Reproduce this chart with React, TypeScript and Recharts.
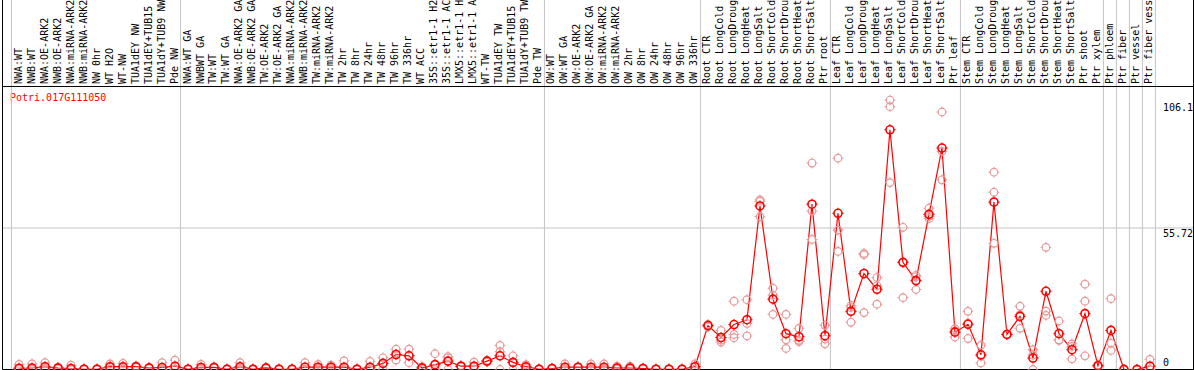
import React from 'react';
import { ComposedChart, Line, Scatter, XAxis, YAxis, ReferenceLine } from 'recharts';

const title = 'Potri.017G111050';

const labels = [
  'NWA:WT', 'NWB:WT', 'NWA:OE-ARK2', 'NWB:OE-ARK2', 'NWA:miRNA-ARK2', 'NWB:miRNA-ARK2', 'NW 0hr', 'WT H2O', 'WT-NW', 'TUA1dEY NW', 'TUA1dEY+TUB15 NW', 'TUA1dY+TUB9 NW', 'Pde NW',
  'NWA:WT GA', 'NWBWT GA', 'TW:WT', 'TW:WT GA', 'NWA:OE-ARK2 GA', 'NWB:OE-ARK2 GA', 'TW:OE-ARK2', 'TW:OE-ARK2 GA', 'NWA:miRNA-ARK2 GA', 'NWB:miRNA-ARK2 GA', 'TW:miRNA-ARK2', 'TW:miRNA-ARK2 GA', 'TW 2hr', 'TW 8hr', 'TW 24hr', 'TW 48hr', 'TW 96hr', 'TW 336hr', 'WT ACC', '35S::etr1-1 H2O', '35S::etr1-1 ACC', 'LMX5::etr1-1 H2O', 'LMX5::etr1-1 ACC', 'WT-TW', 'TUA1dEY TW', 'TUA1dEY+TUB15 TW', 'TUA1dY+TUB9 TW', 'Pde TW',
  'OW:WT', 'OW:WT GA', 'OW:OE-ARK2', 'OW:OE-ARK2 GA', 'OW:miRNA-ARK2', 'OW:miRNA-ARK2 GA', 'OW 2hr', 'OW 8hr', 'OW 24hr', 'OW 48hr', 'OW 96hr', 'OW 336hr',
  'Root CTR', 'Root LongCold', 'Root LongDrought', 'Root LongHeat', 'Root LongSalt', 'Root ShortCold', 'Root ShortDrought', 'Root ShortHeat', 'Root ShortSalt', 'Ptr root',
  'Leaf CTR', 'Leaf LongCold', 'Leaf LongDrought', 'Leaf LongHeat', 'Leaf LongSalt', 'Leaf ShortCold', 'Leaf ShortDrought', 'Leaf ShortHeat', 'Leaf ShortSalt', 'Ptr leaf',
  'Stem CTR', 'Stem LongCold', 'Stem LongDrought', 'Stem LongHeat', 'Stem LongSalt', 'Stem ShortCold', 'Stem ShortDrought', 'Stem ShortHeat', 'Stem ShortSalt', 'Ptr shoot', 'Ptr xylem',
  'Ptr phloem', 'Ptr fiber', 'Ptr vessel', 'Ptr fiber vessel',
];

const groupSizes = [13, 28, 12, 10, 10, 11, 1, 1, 1, 1];

const means = [
  0.5, 0.6, 1.1, 0.6, 0.4, 0.1, 0.1, 1.1, 1.1, 1.1, 0.6, 0.8, 1.3,
  0.1, 0.8, 0.8, 0.1, 1.1, 0.1, 0.6, 0.1, 0.1, 0.9, 0.9, 0.9, 0.9, 0.1, 0.9, 2.4, 5.9, 5.4, 0.6, 1.9, 3.3, 1.3, 1.3, 3.3, 5.4, 2.8, 1.1, 0.1,
  0.4, 0.9, 0.9, 0.9, 0.9, 0.6, 0.6, 0.4, 0.1, 0.1, 0.1, 1.1,
  17.3, 12.6, 17.7, 19.6, 64.4, 27.7, 14.1, 12.9, 65.1, 13.3,
  61.5, 22.9, 37.8, 31.6, 94.4, 42.2, 35.0, 61.1, 87.2, 14.7,
  17.8, 5.8, 65.9, 13.8, 20.9, 4.5, 30.8, 14.1, 7.8, 22.0, 1.5,
  15.4, 0, 0, 1.3,
];

const rep1 = [
  2.0, 2.2, 2.7, 0.9, 1.7, 0.2, 0.2, 2.2, 2.4, 1.4, 0.8, 2.7, 3.7,
  0.2, 2.0, 1.0, 0.2, 2.7, 0.2, 0.8, 0.2, 0.2, 2.7, 2.0, 1.7, 3.4, 0.2, 3.2, 4.6, 8.0, 8.0, 1.1, 6.2, 5.1, 1.5, 2.9, 3.6, 9.5, 5.4, 1.9, 0.2,
  0.5, 2.2, 1.0, 2.2, 2.2, 1.3, 1.3, 0.5, 0.2, 0.2, 0.2, 2.2,
  17.8, 15.4, 26.9, 27.5, 66.8, 32.0, 21.7, 16.2, 81.3, 17.4,
  83.2, 25.2, 45.7, 36.2, 106.1, 56.0, 37.1, 63.5, 101.4, 16.1,
  22.9, 9.5, 77.7, 14.0, 24.9, 7.8, 48.1, 19.1, 10.1, 33.6, 1.8,
  27.9, 0, 0, 4.0,
];

const rep2 = [
  0.3, 0.2, 0.5, 0.6, 0, 0.1, 0.1, 0.9, 0.7, 1.0, 0.6, 0, 0.2,
  0.1, 0.3, 0.8, 0.1, 0.5, 0.1, 0.6, 0.1, 0.1, 0, 0.5, 0.7, 0, 0.1, 0, 2.4, 5.9, 5.4, 0.6, 0, 4.6, 1.3, 1.0, 3.3, 7.0, 2.8, 1.0, 0.1,
  0.4, 0.4, 0.9, 0.4, 0.4, 0.4, 0.4, 0.4, 0.1, 0.1, 0.1, 1.0,
  17.3, 11.6, 13.8, 18.1, 66.2, 29.3, 11.7, 11.5, 62.4, 12.0,
  54.9, 24.5, 45.2, 33.0, 103.5, 42.3, 36.5, 60.3, 85.9, 15.2,
  18.3, 5.3, 69.8, 13.8, 21.6, 5.7, 23.0, 11.7, 9.1, 26.9, 1.5,
  10.4, 0, 0, 0,
];

const rep3 = [
  0, 0, 0.2, 0.2, 0, 0, 0, 0.2, 0.2, 0.8, 0.4, 0, 0,
  0, 0, 0.6, 0, 0, 0, 0.4, 0, 0, 0, 0.2, 0.3, 0, 0, 0, 0, 3.7, 2.7, 0, 0, 0, 1.1, 0, 3.0, 0, 0, 0.4, 0,
  0.3, 0.1, 0.8, 0.1, 0.1, 0.1, 0.1, 0.3, 0, 0, 0, 0.1,
  16.8, 10.8, 12.5, 13.2, 60.2, 21.7, 8.3, 11.0, 51.2, 10.1,
  46.5, 18.6, 22.4, 25.7, 73.6, 28.3, 31.5, 59.5, 74.7, 12.8,
  12.2, 2.6, 49.7, 13.6, 16.2, 0, 21.3, 11.5, 4.2, 5.4, 1.2,
  7.5, 0, 0, 0,
];

const yTicks = [0, 55.72, 106.1];
const SCALE_MAX = 111.44; // frame top value (2 x 55.72)

// layout constants
const W = 1194;
const H = 370;
const MARGIN = { top: -1, right: -0.5, bottom: 0.5, left: 2.5 };
const X_DOMAIN: [number, number] = [-1.27, 90.35];
const Y_TOP = 145.5; // value at the very top of the picture (label band above the frame)
const SEP_OFFSET = 0.58;
const FONT = '"DejaVu Sans Mono", monospace';
const RED = '#ff0000';
const REP_COLOR = '#e89a9a';
const GRID = '#c4c4c4';

const data = labels.map((label, i) => ({
  i,
  label,
  mean: means[i],
  r1: rep1[i],
  r2: rep2[i],
  r3: rep3[i],
}));

const separators: number[] = [];
{
  let acc = 0;
  separators.push(acc);
  for (const s of groupSizes) {
    acc += s;
    separators.push(acc);
  }
}

const ticksX = labels.map((_, i) => i);

const Ring = ({ cx, cy, r, color, sw }: any) => {
  if (cx == null || cy == null) return null;
  const t = 1.6;
  return (
    <g>
      <circle cx={cx} cy={cy} r={r} fill="none" stroke={color} strokeWidth={sw} />
      <line x1={cx} y1={cy - r - t} x2={cx} y2={cy - r + 0.5} stroke={color} strokeWidth={1} />
      <line x1={cx} y1={cy + r - 0.5} x2={cx} y2={cy + r + t} stroke={color} strokeWidth={1} />
      <line x1={cx - r - t} y1={cy} x2={cx - r + 0.5} y2={cy} stroke={color} strokeWidth={1} />
      <line x1={cx + r - 0.5} y1={cy} x2={cx + r + t} y2={cy} stroke={color} strokeWidth={1} />
    </g>
  );
};

const renderMeanDot = (p: any) => (
  <Ring key={`m${p.index}`} cx={p.cx} cy={p.cy} r={4} color={RED} sw={1.6} />
);

const renderRep = (p: any) => <Ring cx={p.cx} cy={p.cy} r={3.8} color={REP_COLOR} sw={1.2} />;

const XTick = (props: any) => {
  const { x, payload } = props;
  const label = labels[payload.value];
  return (
    <text
      transform={`translate(${x + 2.5},84) rotate(-90)`}
      fontFamily={FONT}
      fontSize={10}
      fill="#000"
      textAnchor="start"
    >
      {label}
    </text>
  );
};

const Y_DY: Record<string, number> = { '0': -4, '55.72': 9, '106.1': 11 };

const YTick = (props: any) => {
  const { y, payload } = props;
  const v = payload.value;
  return (
    <text x={W - 31} y={y + (Y_DY[String(v)] ?? 9)} fontFamily={FONT} fontSize={10} fill="#000" textAnchor="start">
      {String(v)}
    </text>
  );
};

export default function App() {
  return (
    <div style={{ position: 'absolute', left: 0, top: 0, width: W, height: H, background: '#fff', overflow: 'hidden' }}>
      <ComposedChart width={W} height={H} data={data} margin={MARGIN}>
        <XAxis
          dataKey="i"
          type="number"
          domain={X_DOMAIN}
          allowDataOverflow
          ticks={ticksX}
          interval={0}
          orientation="top"
          height={1}
          axisLine={false}
          tickLine={false}
          tick={<XTick />}
        />
        <YAxis
          type="number"
          domain={[0, Y_TOP]}
          allowDataOverflow
          ticks={yTicks}
          interval={0}
          orientation="right"
          width={1}
          axisLine={false}
          tickLine={false}
          tick={<YTick />}
        />
        {separators.map((k) => (
          <ReferenceLine key={`s${k}`} x={k - SEP_OFFSET} stroke={GRID} strokeWidth={1} />
        ))}
        <ReferenceLine y={55.72} stroke={GRID} strokeWidth={1} />
        <ReferenceLine y={0} stroke="#000" strokeWidth={1.2} />
        <ReferenceLine y={SCALE_MAX} stroke="#000" strokeWidth={1} />
        <ReferenceLine x={X_DOMAIN[0]} stroke="#000" strokeWidth={1} />
        <ReferenceLine x={X_DOMAIN[1]} stroke="#000" strokeWidth={1} />
        <Scatter dataKey="r1" shape={renderRep} isAnimationActive={false} />
        <Scatter dataKey="r2" shape={renderRep} isAnimationActive={false} />
        <Scatter dataKey="r3" shape={renderRep} isAnimationActive={false} />
        <Line
          dataKey="mean"
          type="linear"
          stroke={RED}
          strokeWidth={1.2}
          dot={renderMeanDot}
          activeDot={false}
          isAnimationActive={false}
        />
        <text x={10} y={101} fontFamily={FONT} fontSize={10} fill={RED}>
          {title}
        </text>
      </ComposedChart>
    </div>
  );
}
